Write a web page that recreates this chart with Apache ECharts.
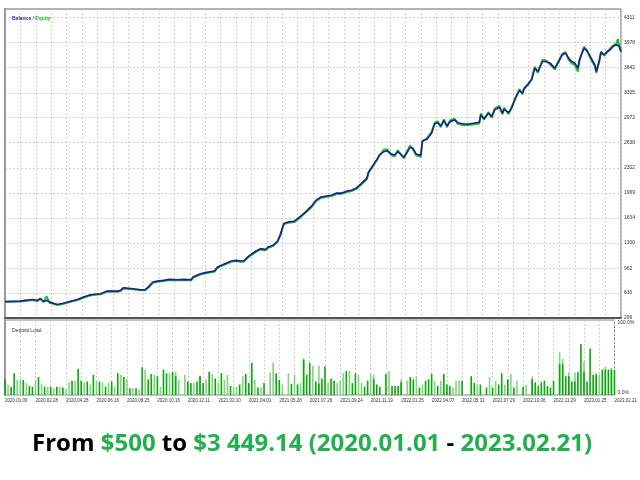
<!DOCTYPE html>
<html><head><meta charset="utf-8">
<script src="https://cdn.jsdelivr.net/npm/echarts@6/dist/echarts.min.js"></script>
<style>html,body{margin:0;padding:0;background:#fff}#c{width:640px;height:480px}</style>
</head><body><div id="c"></div>
<script>
// deal index (x) for each balance/equity reading
const dealIndex = [0,10,13,14,18,21,23,25,27,29,34,38,42,47,51,54,57,62,66,68,
73,75,77,79,83,88,91,93,96,99,103,107,112,116,121,122,127,130,136,138,
142,147,150,153,155,158,163,166,169,171,174,177,179,181,184,188,192,195,199,202,
205,208,212,215,218,222,225,228,231,235,236,239,242,243,246,248,251,253,255,259,
261,263,265,267,270,271,274,277,279,281,283,285,287,289,292,294,298,301,304,308,
309,311,314,316,318,321,323,324,327,329,331,334,336,337,340,342,344,346,349,351,
354,357,360,362,364,366,368,370,372,373,376,378,380,383,384,386,387,389,391,393,
395,397,398,399,400];
const balance = [517,521,531,548,544,531,557,517,531,508,477,494,517,544,575,598,611,620,655,655,
655,665,701,695,687,674,674,709,776,789,799,812,808,812,808,843,888,902,923,977,
1013,1057,1066,1057,1057,1120,1191,1223,1210,1245,1268,1325,1424,1558,1580,1589,1656,1710,1790,1870,
1911,1924,1937,1964,1964,1991,2004,2031,2085,2165,2246,2339,2433,2473,2518,2531,2487,2473,2518,2447,
2504,2577,2563,2487,2469,2665,2684,2764,2889,2906,2862,2933,2862,2920,2943,2906,2889,2889,2898,2912,
3010,2960,3032,2987,3077,3113,3032,3086,3040,3099,3220,3335,3300,3354,3434,3479,3635,3590,3724,3724,
3702,3635,3737,3814,3836,3769,3724,3702,3635,3747,3903,3858,3791,3680,3590,3747,3844,3814,3858,3881,
3925,3948,3970,3925,3858];
const equity = [510,515,524,540,536,524,550,510,584,500,470,487,510,536,566,590,603,612,646,647,
646,657,690,688,679,666,667,700,765,780,790,803,800,803,800,833,878,893,914,965,
1002,1046,1058,1048,1048,1108,1180,1212,1200,1234,1256,1312,1408,1545,1570,1578,1644,1698,1776,1858,
1900,1912,1925,1952,1953,1980,1993,2018,2072,2150,2232,2325,2420,2462,2545,2552,2470,2455,2540,2430,
2520,2598,2545,2470,2450,2650,2700,2780,2905,2925,2845,2950,2845,2935,2960,2890,2872,2874,2882,2896,
3030,2945,3050,2970,3095,3130,3015,3105,3020,3118,3205,3355,3285,3370,3418,3495,3655,3570,3745,3740,
3685,3615,3755,3830,3850,3745,3700,3680,3590,3730,3920,3875,3770,3660,3570,3730,3860,3800,3842,3900,
3940,3962,4024,3910,3850];
// deposit load (%), one slot every 2 deals
const loadDark = [21,0,11,29,0,0,20,0,12,11,0,24,0,11,0,11,0,11,0,10,
0,0,19,0,35,19,0,18,0,27,0,18,0,11,0,18,0,29,0,24,
0,9,0,9,0,37,0,21,28,0,25,0,34,29,0,31,25,0,0,0,
18,16,0,18,25,16,0,31,0,22,0,29,0,0,12,0,0,14,0,28,
16,43,0,10,0,16,0,0,0,29,20,0,0,0,15,0,14,0,47,27,
43,0,18,15,22,38,0,22,19,0,0,0,32,0,16,29,0,0,11,19,
0,21,14,11,0,28,0,12,12,12,17,0,0,24,21,0,10,0,19,21,
28,0,12,0,28,14,12,0,0,0,19,0,0,25,16,0,14,0,10,0,
10,0,14,29,0,21,0,10,0,0,11,0,0,21,17,12,17,19,12,10,
19,0,41,41,25,25,18,18,31,68,31,18,62,27,27,0,34,34,34,34,33];
const loadLight = [0,14,0,0,20,21,0,16,0,0,20,0,14,0,11,0,9,0,11,0,
8,17,0,19,0,0,17,0,14,0,19,0,17,0,16,0,11,0,27,0,
21,0,9,0,8,0,34,0,0,27,0,11,0,0,29,0,31,20,0,27,
0,0,16,0,26,0,21,0,28,0,16,0,20,27,0,11,11,0,25,0,
0,0,20,0,10,0,0,30,43,0,0,14,0,29,0,27,0,16,49,0,
0,39,0,39,0,0,16,0,0,16,19,29,0,32,0,0,27,16,0,0,
28,27,0,0,0,0,32,0,0,0,21,0,19,0,0,25,0,14,0,0,
0,18,0,19,0,0,0,10,19,19,0,0,0,0,0,14,0,0,0,24,
0,19,0,0,14,0,28,0,19,0,0,14,0,25,0,0,0,0,0,0,
0,0,57,48,0,30,0,30,0,0,45,0,0,0,30,27,0,38,0,36,0];
const yTicks = [296,630,962,1300,1634,1969,2302,2638,2972,3305,3642,3978,4311];
const dateLabels = ['2020.01.09','2020.02.28','2020.04.28','2020.06.16','2020.08.25','2020.10.16','2020.12.11',
'2021.02.10','2021.04.01','2021.05.28','2021.07.26','2021.09.24','2021.11.19','2022.01.25','2022.04.07',
'2022.05.31','2022.07.29','2022.10.06','2022.11.29','2023.01.25','2023.02.21'];

const chart = echarts.init(document.getElementById('c'));
const bal = dealIndex.map((d, i) => [d, balance[i]]);
const eq = dealIndex.map((d, i) => [d, equity[i]]);
const dk = loadDark.map((v, i) => [i * 2, v]);
const lt = loadLight.map((v, i) => [i * 2, v]);
const dash = {show: true, lineStyle: {color: '#cfcfcf', type: [2, 2], width: 1}};
const small = {fontFamily: 'Liberation Sans', color: '#333'};
chart.setOption({
  animation: false,
  backgroundColor: '#fff',
  title: [
    {left: 7, top: 11, text: '{b|Balance}{s| / }{e|Equity}',
     textStyle: {rich: {b: {color: '#2a2ab8', fontSize: 5, fontFamily: 'Liberation Sans'},
                        s: {color: '#777', fontSize: 5, fontFamily: 'Liberation Sans'},
                        e: {color: '#22bb22', fontSize: 5, fontFamily: 'Liberation Sans'}}}},
    {left: 7, top: 323, text: 'Deposit Load', textStyle: {fontSize: 5, color: '#333', fontWeight: 'normal', fontFamily: 'Liberation Sans'}},
    {left: 27, top: 424, text: '{k|From }{g|$500}{k| to }{g|$3 449.14 (2020.01.01}{k| - }{g|2023.02.21)}',
     textStyle: {rich: {k: {color: '#000', fontSize: 24, lineHeight: 30, fontWeight: 'bold', fontFamily: 'Open Sans'},
                        g: {color: '#21b04b', fontSize: 24, lineHeight: 30, fontWeight: 'bold', fontFamily: 'Open Sans'}}}}
  ],
  grid: [
    {left: 5, right: 19, top: 9, height: 309, show: true, borderColor: '#666', borderWidth: 1},
    {left: 5, right: 19, top: 320, height: 75, show: true, borderColor: '#888', borderWidth: 1}
  ],
  xAxis: [
    {type: 'value', gridIndex: 0, min: 0, max: 400, interval: 10,
     axisLine: {show: true, onZero: false, lineStyle: {color: '#555', width: 2}},
     axisTick: {show: false}, axisLabel: {show: false}, splitLine: dash},
    {type: 'value', gridIndex: 1, min: 0, max: 400, interval: 10,
     axisLine: {show: false}, axisTick: {show: false}, splitLine: dash,
     axisLabel: Object.assign({fontSize: 4.5, margin: 3, align: 'left',
       formatter: v => (v % 20 === 0 ? dateLabels[v / 20] : '')}, small)}
  ],
  yAxis: [
    {type: 'value', gridIndex: 0, position: 'right', min: 296, max: 4425,
     axisLine: {show: true, lineStyle: {color: '#999', width: 2}},
     axisTick: {show: false, customValues: yTicks},
     axisLabel: Object.assign({fontSize: 5, margin: 3, customValues: yTicks, formatter: v => String(v)}, small),
     splitLine: dash},
    {type: 'value', gridIndex: 1, position: 'right', min: 0, max: 100, interval: 100,
     axisLine: {show: true, lineStyle: {color: '#999', width: 2}},
     axisTick: {show: false}, splitLine: {show: false},
     axisLabel: Object.assign({fontSize: 5, margin: 3, verticalAlignMinLabel: 'bottom', verticalAlignMaxLabel: 'top',
       formatter: v => v.toFixed(1) + '%'}, small)}
  ],
  series: [
    {type: 'line', xAxisIndex: 0, yAxisIndex: 0, data: eq, symbol: 'none', lineStyle: {color: '#22c022', width: 2}, z: 2},
    {type: 'line', xAxisIndex: 0, yAxisIndex: 0, data: bal, symbol: 'none', lineStyle: {color: '#1c1ca0', width: 1.6}, z: 3},
    {type: 'bar', xAxisIndex: 1, yAxisIndex: 1, data: lt, barWidth: 1.6, barGap: '-100%', itemStyle: {color: '#7fd67f'}},
    {type: 'bar', xAxisIndex: 1, yAxisIndex: 1, data: dk, barWidth: 1.6, barGap: '-100%', itemStyle: {color: '#06aa06'}}
  ]
});
</script>
</body></html>
